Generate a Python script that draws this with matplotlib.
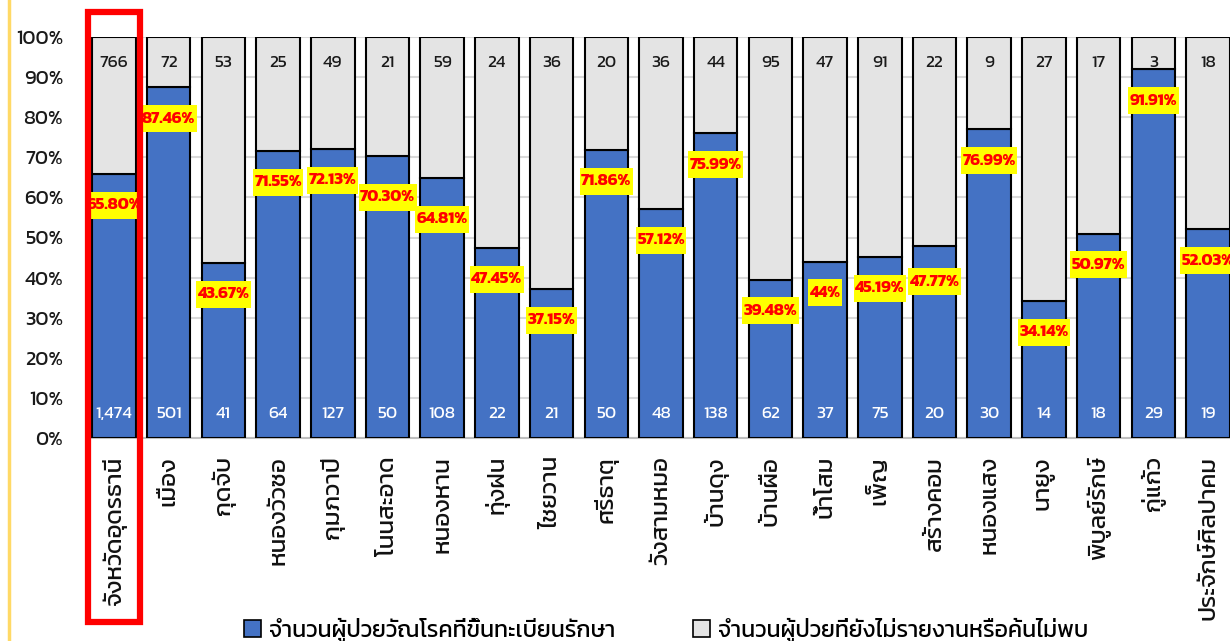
import matplotlib
matplotlib.use("Agg")
import matplotlib.pyplot as plt
from matplotlib import font_manager
from matplotlib.ft2font import FT2Font
from matplotlib.patches import Rectangle
from matplotlib.lines import Line2D
import numpy as np

# ---------------- data ----------------
categories = ["จังหวัดอุดรธานี", "เมือง", "กุดจับ", "หนองวัวซอ", "กุมภวาปี", "โนนสะอาด",
              "หนองหาน", "ทุ่งฝน", "ไชยวาน", "ศรีธาตุ", "วังสามหมอ", "บ้านดุง", "บ้านผือ",
              "น้ำโสม", "เพ็ญ", "สร้างคอม", "หนองแสง", "นายูง", "พิบูลย์รักษ์", "กู่แก้ว",
              "ประจักษ์ศิลปาคม"]
registered = [1474, 501, 41, 64, 127, 50, 108, 22, 21, 50, 48, 138, 62, 37, 75, 20, 30, 14, 18, 29, 19]
not_found = [766, 72, 53, 25, 49, 21, 59, 24, 36, 20, 36, 44, 95, 47, 91, 22, 9, 27, 17, 3, 18]
pct_registered = [65.80, 87.46, 43.67, 71.55, 72.13, 70.30, 64.81, 47.45, 37.15, 71.86, 57.12,
                  75.99, 39.48, 44, 45.19, 47.77, 76.99, 34.14, 50.97, 91.91, 52.03]
pct_labels = ["65.80%", "87.46%", "43.67%", "71.55%", "72.13%", "70.30%", "64.81%", "47.45%",
              "37.15%", "71.86%", "57.12%", "75.99%", "39.48%", "44%", "45.19%", "47.77%",
              "76.99%", "34.14%", "50.97%", "91.91%", "52.03%"]
yticks = [0, 10, 20, 30, 40, 50, 60, 70, 80, 90, 100]
legend_labels = ["จำนวนผู้ป่วยวัณโรคที่ขึ้นทะเบียนรักษา", "จำนวนผู้ป่วยที่ยังไม่รายงานหรือค้นไม่พบ"]

# ---------------- font with Thai glyphs ----------------
def find_thai_font():
    cands = []
    for f in font_manager.fontManager.ttflist:
        try:
            cm = FT2Font(f.fname).get_charmap()
        except Exception:
            continue
        if 0x0E08 in cm and 0x0E31 in cm:
            cands.append(f)
    if not cands:
        return None
    pref = ["Kanit", "Prompt", "Noto Sans Thai", "Noto Sans Thai UI", "Sarabun", "Laksaman",
            "Loma", "Garuda", "Waree", "Umpush", "Sawasdee"]
    def key(f):
        p = pref.index(f.name) if f.name in pref else len(pref)
        w = 0 if f.weight in (400, "normal", "regular") else 1
        return (p, w, f.style != "normal")
    cands.sort(key=key)
    return cands[0].name

thai = find_thai_font()
families = ([thai] if thai else []) + ["DejaVu Sans"]
plt.rcParams["font.family"] = families

W, H = 1230, 641
fig = plt.figure(figsize=(W / 100, H / 100), dpi=100)
fig.patch.set_facecolor("white")

px_unit = 54.7
left_px = 114 - 0.5 * px_unit
ax = fig.add_axes([left_px / W, (H - 438) / H, 1 - left_px / W, 401 / H])
n = len(categories)
x = np.arange(n)
blue = np.array(pct_registered)
grey = 100 - blue

ax.bar(x, blue, width=0.795, color="#4472C4", edgecolor="black", linewidth=1.5, zorder=3)
ax.bar(x, grey, bottom=blue, width=0.795, color="#E4E4E4", edgecolor="black", linewidth=1.5, zorder=3)

ax.set_xlim(-0.5, -0.5 + (W - left_px) / px_unit)
ax.set_ylim(0, 100)
ax.set_yticks(yticks)
ax.set_yticklabels([f"{v}%" for v in yticks], fontsize=14.5, color="#1a1a1a")
ax.yaxis.grid(True, color="#D9D9D9", linewidth=1.5, zorder=0)
ax.set_axisbelow(True)
for s in ["top", "right", "left"]:
    ax.spines[s].set_visible(False)
ax.spines["bottom"].set_color("#BFBFBF")
ax.spines["bottom"].set_linewidth(1.5)
ax.tick_params(axis="y", length=0, pad=17)
ax.tick_params(axis="x", length=0, pad=13)
ax.set_xticks(x)
ax.set_xticklabels(categories, rotation=90, fontsize=17.5, va="top", ha="center", color="#111111")

nudge = {5: -2.5, 6: -2.5, 15: -1.0}
pct_texts = []
for i in range(n):
    ax.text(x[i], 6, f"{registered[i]:,}", ha="center", va="center", color="white", fontsize=12.5, zorder=5)
    ax.text(x[i], 93.5, f"{not_found[i]:,}", ha="center", va="center", color="#1a1a1a", fontsize=12.5, zorder=5)
    t = ax.text(x[i], blue[i] - 7.8 + nudge.get(i, 0), pct_labels[i], ha="center", va="center",
                color="#FF0000", fontsize=12, fontweight="bold", zorder=7)
    pct_texts.append(t)

# yellow boxes behind percentage labels (tight horizontally, taller vertically)
fig.canvas.draw()
r = fig.canvas.get_renderer()
inv = fig.transFigure.inverted()
for t in pct_texts:
    bb = t.get_window_extent(r)
    cx, cy = (bb.x0 + bb.x1) / 2, (bb.y0 + bb.y1) / 2
    w_px, h_px = bb.width + 3, 27
    (fx0, fy0) = inv.transform((cx - w_px / 2, cy - h_px / 2))
    (fx1, fy1) = inv.transform((cx + w_px / 2, cy + h_px / 2))
    fig.add_artist(Rectangle((fx0, fy0), fx1 - fx0, fy1 - fy0, transform=fig.transFigure,
                             facecolor="#FFFF00", edgecolor="none", zorder=6))
    t.remove()
    fig.text((fx0 + fx1) / 2, (fy0 + fy1) / 2, t.get_text(), ha="center", va="center",
             color="#FF0000", fontsize=12, fontweight="bold", zorder=7)

# red highlight box around first bar
fig.add_artist(Rectangle((87.5 / W, 1 - 622 / H), (140 - 87.5) / W, (622 - 12) / H,
                         transform=fig.transFigure, fill=False, edgecolor="#FF0000", linewidth=4.5, zorder=8))
# slide border line at left
fig.add_artist(Line2D([9 / W, 9 / W], [0, 1], transform=fig.transFigure, color="#FFD966", linewidth=2.5))

handles = [Rectangle((0, 0), 1, 1, facecolor="#4472C4", edgecolor="black", linewidth=1.2),
           Rectangle((0, 0), 1, 1, facecolor="#E4E4E4", edgecolor="black", linewidth=1.2)]
fig.legend(handles, legend_labels, loc="center left", bbox_to_anchor=(244 / W, 1 - 630 / H), ncol=2,
           frameon=False, fontsize=16.6, handlelength=0.75, handleheight=0.75, handletextpad=0.35,
           columnspacing=3.35, borderaxespad=0, borderpad=0)

fig.savefig("out.png", dpi=100)
